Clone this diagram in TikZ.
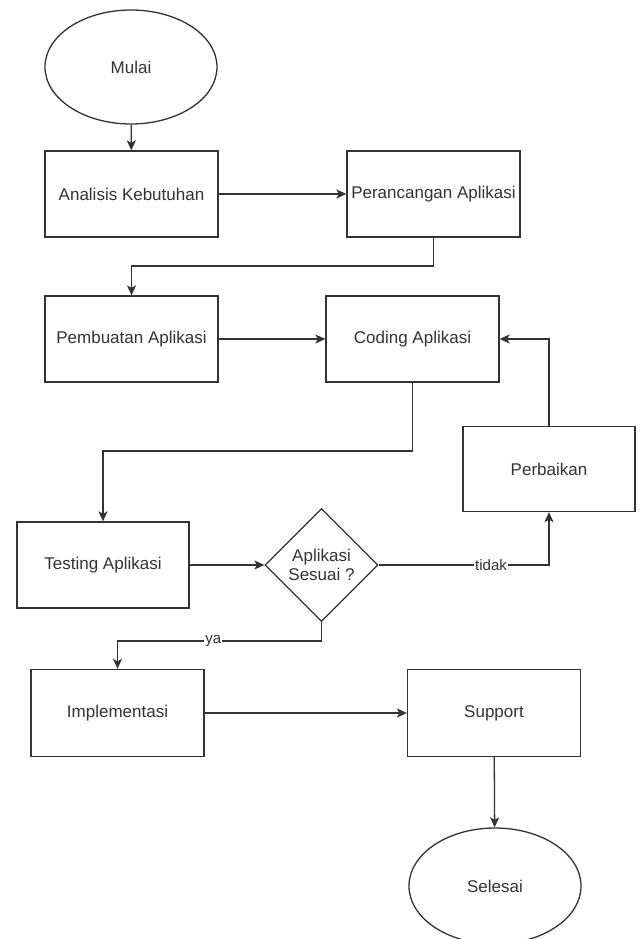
\documentclass[tikz,border=0pt]{standalone}
\usepackage{fontspec}
\setmainfont{Liberation Sans}
\usetikzlibrary{shapes.geometric,arrows.meta}
\definecolor{ink}{HTML}{333333}
\begin{document}
\begin{tikzpicture}[x=1pt,y=-1pt,
  every node/.style={text=ink,font=\fontsize{17}{19}\selectfont},
  box/.style={draw=ink,line width=1.3pt,rectangle,minimum width=173pt,minimum height=86pt,inner sep=0pt},
  terminal/.style={draw=ink,line width=1.3pt,ellipse,minimum width=172pt,minimum height=114pt,inner sep=0pt},
  decision/.style={draw=ink,line width=1.3pt,diamond,minimum width=113pt,minimum height=113pt,inner sep=0pt,align=center},
  flow/.style={draw=ink,line width=1.3pt,-{Stealth[length=10pt,width=9pt,inset=2.5pt]}},
  lbl/.style={fill=white,inner sep=1pt,font=\fontsize{15}{17}\selectfont}]
\useasboundingbox (0,0) rectangle (642,939);
\fill[white] (0,0) rectangle (642,939);

% process steps
\node[terminal] (mulai) at (131,67) {Mulai};
\node[box] (analisis) at (131.5,194) {Analisis Kebutuhan};
\node[box] (perancangan) at (433.5,194) {Perancangan Aplikasi};
\node[box] (pembuatan) at (131.5,339) {Pembuatan Aplikasi};
\node[box] (coding) at (412.5,339) {Coding Aplikasi};
\node[box,minimum width=172pt,minimum height=85pt] (perbaikan) at (549,469) {Perbaikan};
\node[box,minimum width=172pt] (testing) at (103,565) {Testing Aplikasi};
\node[decision] (cek) at (321.5,565) {Aplikasi\\Sesuai ?};
\node[box,minimum height=87pt] (impl) at (117.5,713) {Implementasi};
\node[box,minimum height=87pt] (support) at (494,713) {Support};
\node[terminal,minimum height=116pt] (selesai) at (495,886) {Selesai};

% bend points of the routed connectors
\coordinate (b1) at (433.5,266);
\coordinate (b2) at (412.5,451);
\coordinate (b3) at (321.5,641);

% connectors
\draw[flow] (mulai) -- (analisis);
\draw[flow] (analisis) -- (perancangan);
\draw[flow] (perancangan.south) -- (b1) -| (pembuatan.north);
\draw[flow] (pembuatan) -- (coding);
\draw[flow] (coding.south) -- (b2) -| (testing.north);
\draw[flow] (testing) -- (cek);
\draw[flow] (cek.east) -| node[lbl,pos=0.33] {tidak} (perbaikan.south);
\draw[flow] (perbaikan.north) |- (coding.east);
\draw[flow] (cek.south) -- (b3) -| node[lbl,pos=0.265] {ya} (impl.north);
\draw[flow] (impl) -- (support);
\draw[flow] (support) -- (selesai);
\end{tikzpicture}
\end{document}
